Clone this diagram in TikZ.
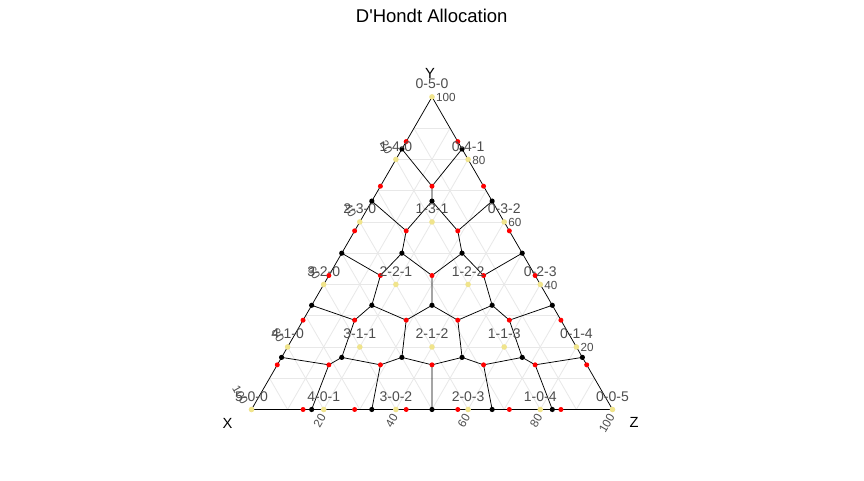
\documentclass[tikz,border=0pt]{standalone}
\usepackage{fontspec}
\setmainfont{Liberation Sans}[Ligatures=TeXOff]
\usetikzlibrary{calc}
\definecolor{dotyellow}{RGB}{240,228,140}
\definecolor{labgray}{RGB}{77,77,77}
\definecolor{gridgray}{RGB}{232,232,232}
\tikzset{
  gridline/.style={draw=gridgray, line width=0.8pt},
  bound/.style={draw=black, line width=0.75pt},
  reddot/.style={circle, fill=red, inner sep=0pt, minimum size=5pt},
  blackdot/.style={circle, fill=black, inner sep=0pt, minimum size=5.2pt},
  yeldot/.style={circle, fill=dotyellow, inner sep=0pt, minimum size=5.6pt},
  alloclabel/.style={anchor=base, inner sep=0pt, text=labgray, font=\fontsize{14}{14}\selectfont},
  ticklabel/.style={inner sep=0pt, text=labgray, font=\fontsize{11.7}{11.7}\selectfont},
  axistitle/.style={inner sep=0pt, text=black, font=\fontsize{14.7}{14.7}\selectfont},
  titletext/.style={anchor=base, inner sep=0pt, text=black, font=\fontsize{18.5}{18.5}\selectfont}
}
\begin{document}
\begin{tikzpicture}[x=1pt,y=-1pt]
\useasboundingbox (0,0) rectangle (864,480);
\fill[white] (0,0) rectangle (864,480);
\coordinate (X) at (251.5,409.5);
\coordinate (Y) at (432,96.9);
\coordinate (Z) at (612.5,409.5);
% grid end points
\foreach \t in {1,...,9} {
  \pgfmathtruncatemacro\u{10-\t}
  \coordinate (gl-\t) at (barycentric cs:X=\t,Y=\u,Z=0);
  \coordinate (gb-\t) at (barycentric cs:X=\u,Y=0,Z=\t);
  \coordinate (gr-\t) at (barycentric cs:X=0,Y=\t,Z=\u);
}
\foreach \t in {1,...,9} {
  \pgfmathtruncatemacro\u{10-\t}
  \draw[gridline] (gl-\t) -- (gb-\u);
  \draw[gridline] (gl-\u) -- (gr-\t);
  \draw[gridline] (gb-\t) -- (gr-\u);
}
% red points (sevenths), black points (sixths), allocation points (fifths)
\foreach \i in {0,...,7} {
  \foreach \j in {0,...,7} {
    \pgfmathtruncatemacro\k{7-\i-\j}
    \ifnum\k>-1
      \coordinate (r-\i-\j-\k) at (barycentric cs:X=\i,Y=\j,Z=\k);
    \fi
  }
}
\foreach \i in {0,...,6} {
  \foreach \j in {0,...,6} {
    \pgfmathtruncatemacro\k{6-\i-\j}
    \ifnum\k>-1
      \coordinate (b-\i-\j-\k) at (barycentric cs:X=\i,Y=\j,Z=\k);
    \fi
  }
}
\foreach \i in {0,...,5} {
  \foreach \j in {0,...,5} {
    \pgfmathtruncatemacro\k{5-\i-\j}
    \ifnum\k>-1
      \coordinate (a-\i-\j-\k) at (barycentric cs:X=\i,Y=\j,Z=\k);
    \fi
  }
}
% region boundaries
\foreach \i in {1,...,5} {
  \foreach \j in {1,...,5} {
    \pgfmathtruncatemacro\k{7-\i-\j}
    \ifnum\k>0
      \pgfmathtruncatemacro\ia{\i-1}
      \pgfmathtruncatemacro\ja{\j-1}
      \pgfmathtruncatemacro\ka{\k-1}
      \draw[bound] (b-\ia-\j-\k) -- (r-\i-\j-\k) -- (b-\i-\ja-\k);
      \draw[bound] (r-\i-\j-\k) -- (b-\i-\j-\ka);
    \fi
  }
}
\draw[bound] (X) -- (Y) -- (Z) -- cycle;
% dots
\foreach \i in {0,...,6} {
  \foreach \j in {0,...,6} {
    \pgfmathtruncatemacro\k{7-\i-\j}
    \ifnum\k>-1 \ifnum\k<7
      \node[reddot] (rd-\i-\j-\k) at (r-\i-\j-\k) {};
    \fi\fi
  }
}
\foreach \i in {0,...,5} {
  \foreach \j in {0,...,5} {
    \pgfmathtruncatemacro\k{6-\i-\j}
    \ifnum\k>-1 \ifnum\k<6
      \node[blackdot] (bd-\i-\j-\k) at (b-\i-\j-\k) {};
    \fi\fi
  }
}
\foreach \i in {0,...,5} {
  \foreach \j in {0,...,5} {
    \pgfmathtruncatemacro\k{5-\i-\j}
    \ifnum\k>-1
      \node[yeldot] (yd-\i-\j-\k) at (a-\i-\j-\k) {};
      \node[alloclabel] (lab-\i-\j-\k) at ($(a-\i-\j-\k)+(0,-8.2)$) {\i-\j-\k};
    \fi
  }
}
% axis tick labels
\foreach \v in {2,4,6,8,10} {
  \pgfmathtruncatemacro\w{10-\v}
  \pgfmathtruncatemacro\lab{10*\v}
  \coordinate (ty-\v) at (barycentric cs:X=0,Y=\v,Z=\w);
  \coordinate (tz-\v) at (barycentric cs:X=\w,Y=0,Z=\v);
  \coordinate (tx-\v) at (barycentric cs:X=\v,Y=\w,Z=0);
  \node[ticklabel, anchor=west] (tly-\v) at ($(ty-\v)+(4,0.8)$) {\lab};
  \node[ticklabel, anchor=east, rotate=60] (tlz-\v) at ($(tz-\v)+(-0.8,5.2)$) {\lab};
  \node[ticklabel, anchor=east, rotate=-60] (tlx-\v) at ($(tx-\v)+(-6.2,-6)$) {\lab};
}
% axis titles and title
\node[axistitle] (ttY) at (430,73) {Y};
\node[axistitle] (ttX) at (227.5,423) {X};
\node[axistitle] (ttZ) at (634,422) {Z};
\node[titletext] (title) at (431.7,22.7) {D'Hondt Allocation};
\end{tikzpicture}
\end{document}
